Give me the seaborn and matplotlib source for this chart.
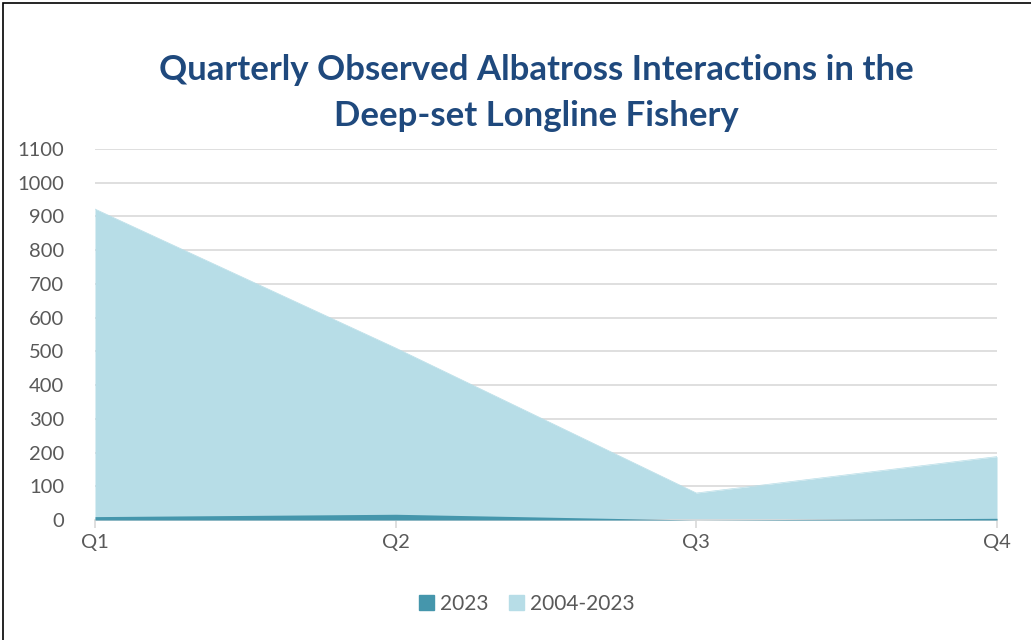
import matplotlib
matplotlib.use("Agg")
import matplotlib.pyplot as plt
import seaborn as sns
import pandas as pd
from matplotlib.patches import Rectangle

quarters = ["Q1", "Q2", "Q3", "Q4"]
series_all = [922, 510, 80, 188]
series_2023 = [10, 17, 0, 5]
labels = ["2023", "2004-2023"]
colors = {"2023": "#4596AC", "2004-2023": "#B7DDE7"}

sns.set_theme(style="white")
plt.rcParams['font.family'] = ['Lato', 'DejaVu Sans']

df = pd.DataFrame({"quarter": quarters, "x": range(len(quarters)),
                   "2023": series_2023, "2004-2023": series_all})

fig = plt.figure(figsize=(10.31, 6.4), dpi=100)
ax = fig.add_axes([95/1031, 1-520/640, (997-95)/1031, (520-149)/640])

ax.fill_between(df["x"], 0, df["2004-2023"], color=colors["2004-2023"], lw=0, zorder=2)
ax.fill_between(df["x"], 0, df["2023"], color=colors["2023"], lw=0, zorder=3)
sns.lineplot(x=df["x"], y=df["2004-2023"], ax=ax, color=colors["2004-2023"], lw=0.5, zorder=2)

ax.set_xlim(0, 3)
ax.set_ylim(0, 1100)
ax.set_yticks(range(0, 1101, 100))
ax.set_xticks(range(4))
ax.set_xticklabels(quarters)
ax.grid(axis="y", color="#D9D9D9", lw=1.2, zorder=0)
ax.set_axisbelow(True)
for s in ["top", "right", "left"]:
    ax.spines[s].set_visible(False)
ax.spines["bottom"].set_color("#D9D9D9")
ax.spines["bottom"].set_linewidth(1.2)
ax.tick_params(axis="x", bottom=True, length=6, color="#D9D9D9", width=1.2, labelsize=14.5, labelcolor="#595959", pad=4)
ax.tick_params(axis="y", left=False, labelsize=14.5, labelcolor="#595959", pad=16)
ax.set_xlabel("")
ax.set_ylabel("")

fig.text(536/1031, 1-70/640, "Quarterly Observed Albatross Interactions in the",
         ha="center", va="center", fontsize=25, fontweight="bold", color="#1F497D")
fig.text(536/1031, 1-116/640, "Deep-set Longline Fishery",
         ha="center", va="center", fontsize=25, fontweight="bold", color="#1F497D")

handles = [Rectangle((0, 0), 1, 1, color=colors[l]) for l in labels]
fig.legend(handles, labels, loc="center", bbox_to_anchor=(527/1031, 1-604/640), ncol=2,
           frameon=False, fontsize=15, handlelength=0.7, handleheight=0.7,
           handletextpad=0.3, columnspacing=1.0, labelcolor="#595959")

border = Rectangle((3/1031, -0.01), 1.02, 1-3/640+0.01, transform=fig.transFigure,
                   fill=False, edgecolor="black", lw=1.2)
fig.patches.append(border)

fig.savefig("out.png", dpi=100)
